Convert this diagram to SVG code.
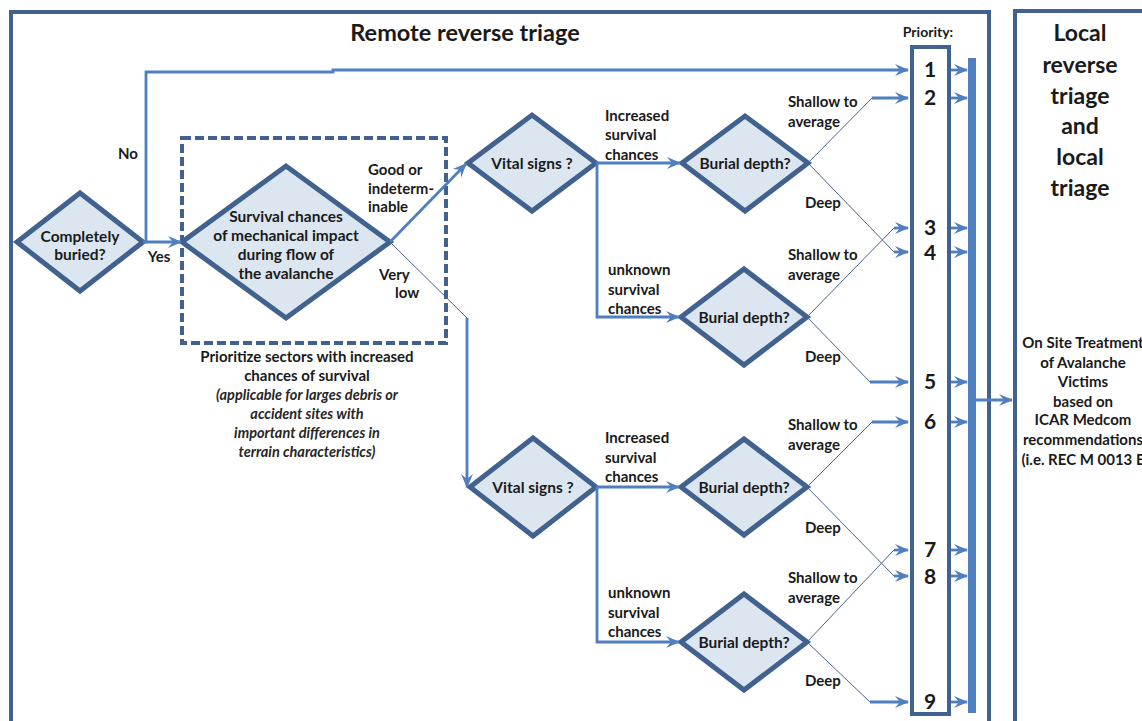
<svg xmlns="http://www.w3.org/2000/svg" width="1142" height="721" viewBox="0 0 1142 721">
<defs>
<marker id="ah" markerUnits="userSpaceOnUse" markerWidth="14" markerHeight="14" viewBox="0 0 14 14" refX="13" refY="7" orient="auto">
<path d="M0,1 L14,7 L0,13 L5,7 z" fill="#4f7fbf"/>
</marker>
<style>
.frame{fill:none;stroke:#41618f;stroke-width:4}
.dia{fill:#dbe6f1;stroke:#41618f;stroke-width:5;stroke-linejoin:miter}
.dash{fill:none;stroke:#41618f;stroke-width:4;stroke-dasharray:9,4}
.thick{fill:none;stroke:#4f7fbf;stroke-width:2.8}
.thin{fill:none;stroke:#4c6486;stroke-width:1}
.t{font-family:Lato,"Liberation Sans",sans-serif;font-weight:bold;fill:#1a1a1a;font-size:15px;text-anchor:middle}
.d{font-size:15.5px}
.l{text-anchor:start}
.i{font-style:italic;font-size:14.5px;fill:#262626}
.num{font-size:21px}
.big{font-size:23px}
.tr{font-size:15px}
</style>
</defs>
<g id="frames">
<rect class="frame" x="11" y="12" width="978" height="720"/>
<rect class="frame" x="1015" y="11" width="140" height="720"/>
<rect class="frame" x="912" y="47" width="37" height="667"/>
<rect x="968" y="58" width="8" height="655" fill="#4f7fbf"/>
<text class="t" x="465" y="41" style="font-size:23.5px">Remote reverse triage</text>
<text class="t" x="928" y="37" style="font-size:14px">Priority:</text>
</g>
<g id="local-title">
<text class="t big" x="1080" y="41">Local</text>
<text class="t big" x="1080" y="73">reverse</text>
<text class="t big" x="1080" y="104">triage</text>
<text class="t big" x="1080" y="134">and</text>
<text class="t big" x="1080" y="165">local</text>
<text class="t big" x="1080" y="196">triage</text>
</g>
<g id="treatment">
<text class="t tr" x="1083" y="348">On Site Treatment</text>
<text class="t tr" x="1083" y="368">of Avalanche</text>
<text class="t tr" x="1083" y="387">Victims</text>
<text class="t tr" x="1083" y="407">based on</text>
<text class="t tr" x="1083" y="425">ICAR Medcom</text>
<text class="t tr" x="1083" y="445">recommendations</text>
<text class="t tr" x="1083" y="465">(i.e. REC M 0013 E</text>
</g>
<g id="priorities">
<text class="t num" x="930" y="77">1</text>
<text class="t num" x="930" y="105">2</text>
<text class="t num" x="930" y="235">3</text>
<text class="t num" x="930" y="260">4</text>
<text class="t num" x="930" y="389">5</text>
<text class="t num" x="930" y="429">6</text>
<text class="t num" x="930" y="557">7</text>
<text class="t num" x="930" y="584">8</text>
<text class="t num" x="930" y="709">9</text>
</g>
<g id="sector-box">
<rect class="dash" x="182" y="138" width="264" height="205"/>
<text class="t" x="307" y="362">Prioritize sectors with increased</text>
<text class="t" x="307" y="381">chances of survival</text>
<text class="t i" x="307" y="400">(applicable for larges debris or</text>
<text class="t i" x="307" y="419">accident sites with</text>
<text class="t i" x="307" y="438">important differences in</text>
<text class="t i" x="307" y="457">terrain characteristics)</text>
</g>
<g id="completely-buried">
<polygon class="dia" points="17,242 80,193 143,242 80,291"/>
<text class="t d" x="80" y="242">Completely</text>
<text class="t d" x="80" y="260">buried?</text>
</g>
<g id="survival-chances">
<polygon class="dia" points="182,242 286,166 390,242 286,318"/>
<text class="t d" x="286" y="222">Survival chances</text>
<text class="t d" x="286" y="241">of mechanical impact</text>
<text class="t d" x="286" y="260">during flow of</text>
<text class="t d" x="286" y="279">the avalanche</text>
</g>
<g id="vital-signs-1">
<polygon class="dia" points="468,163 532,115 596,163 532,211"/>
<text class="t d" x="532" y="169">Vital signs ?</text>
</g>
<g id="burial-depth-1">
<polygon class="dia" points="682,163 745,116 808,163 745,211"/>
<text class="t d" x="745" y="169">Burial depth?</text>
</g>
<g id="burial-depth-2">
<polygon class="dia" points="681,317 744,269 807,317 744,365"/>
<text class="t d" x="744" y="323">Burial depth?</text>
</g>
<g id="vital-signs-2">
<polygon class="dia" points="470,487 533,438 596,487 533,536"/>
<text class="t d" x="533" y="493">Vital signs ?</text>
</g>
<g id="burial-depth-3">
<polygon class="dia" points="681,487 744,439 807,487 744,535"/>
<text class="t d" x="744" y="493">Burial depth?</text>
</g>
<g id="burial-depth-4">
<polygon class="dia" points="681,642 744,594 807,642 744,690"/>
<text class="t d" x="744" y="648">Burial depth?</text>
</g>
<g id="connectors">
<polyline class="thick" points="143,242 146,242 146,72 333,72 333,70 908,70" marker-end="url(#ah)"/>
<line class="thick" x1="146" y1="242" x2="181" y2="242" marker-end="url(#ah)"/>
<line class="thick" x1="390" y1="242" x2="466" y2="164" marker-end="url(#ah)"/>
<line class="thin" x1="390" y1="242" x2="467" y2="318"/>
<line class="thick" x1="467" y1="318" x2="467" y2="487" marker-end="url(#ah)"/>
<line class="thick" x1="596" y1="163" x2="680" y2="163" marker-end="url(#ah)"/>
<polyline class="thick" points="597,163 597,317 679,317" marker-end="url(#ah)"/>
<line class="thick" x1="596" y1="487" x2="679" y2="487" marker-end="url(#ah)"/>
<polyline class="thick" points="597,487 597,642 679,642" marker-end="url(#ah)"/>
<line class="thin" x1="808" y1="163" x2="872" y2="98"/>
<line class="thick" x1="872" y1="98" x2="908" y2="98" marker-end="url(#ah)"/>
<line class="thin" x1="808" y1="163" x2="894" y2="252"/>
<line class="thick" x1="894" y1="252" x2="908" y2="252" marker-end="url(#ah)"/>
<line class="thin" x1="807" y1="317" x2="894" y2="228"/>
<line class="thick" x1="894" y1="228" x2="908" y2="228" marker-end="url(#ah)"/>
<line class="thin" x1="807" y1="317" x2="870" y2="382"/>
<line class="thick" x1="870" y1="382" x2="908" y2="382" marker-end="url(#ah)"/>
<line class="thin" x1="807" y1="487" x2="872" y2="422"/>
<line class="thick" x1="872" y1="422" x2="908" y2="422" marker-end="url(#ah)"/>
<line class="thin" x1="807" y1="487" x2="894" y2="576"/>
<line class="thick" x1="894" y1="576" x2="908" y2="576" marker-end="url(#ah)"/>
<line class="thin" x1="807" y1="642" x2="894" y2="550"/>
<line class="thick" x1="894" y1="550" x2="908" y2="550" marker-end="url(#ah)"/>
<line class="thin" x1="807" y1="642" x2="870" y2="702"/>
<line class="thick" x1="870" y1="702" x2="908" y2="702" marker-end="url(#ah)"/>
<g class="thick">
<line x1="951" y1="70" x2="967" y2="70" marker-end="url(#ah)"/>
<line x1="951" y1="98" x2="967" y2="98" marker-end="url(#ah)"/>
<line x1="951" y1="228" x2="967" y2="228" marker-end="url(#ah)"/>
<line x1="951" y1="252" x2="967" y2="252" marker-end="url(#ah)"/>
<line x1="951" y1="382" x2="967" y2="382" marker-end="url(#ah)"/>
<line x1="951" y1="422" x2="967" y2="422" marker-end="url(#ah)"/>
<line x1="951" y1="550" x2="967" y2="550" marker-end="url(#ah)"/>
<line x1="951" y1="576" x2="967" y2="576" marker-end="url(#ah)"/>
<line x1="951" y1="702" x2="967" y2="702" marker-end="url(#ah)"/>
<line x1="976" y1="400" x2="1012" y2="400" marker-end="url(#ah)"/>
</g>
<text class="t" x="128" y="159">No</text>
<text class="t" x="159" y="262">Yes</text>
<text class="t l" x="368" y="175">Good or</text>
<text class="t l" x="368" y="194">indeterm-</text>
<text class="t l" x="368" y="212">inable</text>
<text class="t l" x="379" y="280">Very</text>
<text class="t l" x="395" y="298">low</text>
<text class="t l" x="605" y="121">Increased</text>
<text class="t l" x="605" y="140">survival</text>
<text class="t l" x="605" y="160">chances</text>
<text class="t l" x="608" y="275">unknown</text>
<text class="t l" x="608" y="295">survival</text>
<text class="t l" x="608" y="314">chances</text>
<text class="t l" x="605" y="443">Increased</text>
<text class="t l" x="605" y="463">survival</text>
<text class="t l" x="605" y="482">chances</text>
<text class="t l" x="608" y="598">unknown</text>
<text class="t l" x="608" y="618">survival</text>
<text class="t l" x="608" y="637">chances</text>
<text class="t l" x="788" y="107">Shallow to</text>
<text class="t l" x="788" y="127">average</text>
<text class="t l" x="805" y="208">Deep</text>
<text class="t l" x="788" y="260">Shallow to</text>
<text class="t l" x="788" y="280">average</text>
<text class="t l" x="805" y="362">Deep</text>
<text class="t l" x="788" y="430">Shallow to</text>
<text class="t l" x="788" y="450">average</text>
<text class="t l" x="805" y="533">Deep</text>
<text class="t l" x="788" y="583">Shallow to</text>
<text class="t l" x="788" y="603">average</text>
<text class="t l" x="805" y="686">Deep</text>
</g>
</svg>
